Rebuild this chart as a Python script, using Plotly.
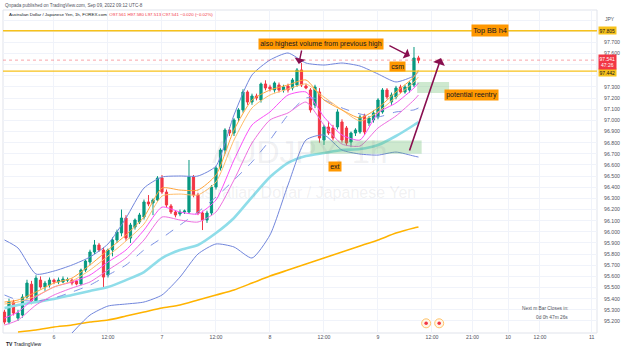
import plotly.graph_objects as go

# ---------------- data ----------------
bar_hours = list(range(-11, 82))  # hours relative to Sep 6 00:00
open_ = [95.280,95.190,95.370,95.226,95.253,95.415,95.530,95.380,95.567,95.505,
         95.523,95.567,95.550,95.550,95.567,95.567,95.558,95.532,95.657,95.729,
         95.819,95.882,95.837,95.612,95.837,95.927,95.990,96.124,95.944,96.043,
         96.088,96.133,96.268,96.259,96.286,96.483,96.357,96.232,96.178,96.160,
         96.178,96.178,96.492,96.331,96.169,96.106,96.169,96.402,96.573,96.734,
         96.914,96.887,97.022,97.094,97.255,97.165,97.219,97.183,97.327,97.300,
         97.273,97.318,97.273,97.309,97.291,97.318,97.453,97.309,97.273,97.138,
         97.255,96.824,96.941,96.932,96.941,96.986,96.932,96.806,96.887,96.896,
         97.040,96.977,97.004,97.031,97.076,97.273,97.165,97.210,97.300,97.255,
         97.273,97.318,97.561]
high = [95.300,95.400,95.390,95.300,95.440,95.570,95.560,95.610,95.600,95.560,
        95.590,95.580,95.590,95.600,95.590,95.580,95.570,95.670,95.750,95.840,
        95.927,95.900,95.860,95.850,95.950,96.020,96.200,96.150,96.080,96.120,
        96.170,96.290,96.330,96.300,96.500,96.510,96.380,96.250,96.190,96.200,
        96.200,96.645,96.510,96.350,96.190,96.190,96.420,96.590,96.750,96.930,
        96.940,97.020,97.110,97.280,97.270,97.240,97.240,97.340,97.360,97.320,
        97.350,97.340,97.320,97.330,97.380,97.470,97.515,97.330,97.290,97.320,
        97.290,96.960,96.990,96.960,97.100,97.010,96.950,96.900,96.930,97.050,
        97.060,97.040,97.090,97.200,97.290,97.290,97.250,97.310,97.320,97.320,
        97.350,97.659,97.580]
low = [95.170,95.170,95.250,95.200,95.230,95.400,95.350,95.360,95.490,95.470,
       95.500,95.530,95.530,95.540,95.550,95.520,95.520,95.520,95.640,95.700,
       95.800,95.820,95.496,95.590,95.780,95.900,95.960,95.920,95.900,96.020,
       96.070,96.110,96.230,96.150,96.270,96.340,96.220,96.160,96.130,96.140,
       96.160,96.160,96.310,96.150,96.016,96.080,96.150,96.380,96.550,96.700,
       96.860,96.860,96.990,97.070,97.140,97.140,97.180,97.160,97.270,97.260,
       97.250,97.250,97.250,97.250,97.270,97.300,97.300,97.280,97.070,97.110,
       96.800,96.780,96.870,96.820,96.920,96.800,96.770,96.760,96.860,96.880,
       96.870,96.950,96.980,97.010,97.060,97.190,97.140,97.190,97.240,97.240,
       97.250,97.300,97.513]
close = [95.190,95.370,95.271,95.271,95.415,95.540,95.380,95.585,95.505,95.540,
         95.567,95.550,95.567,95.576,95.570,95.540,95.532,95.657,95.738,95.819,
         95.882,95.837,95.594,95.837,95.927,95.998,96.124,95.944,96.061,96.106,
         96.151,96.268,96.250,96.286,96.483,96.357,96.241,96.178,96.151,96.178,
         96.187,96.492,96.331,96.169,96.106,96.169,96.402,96.573,96.734,96.914,
         96.887,97.004,97.094,97.255,97.165,97.219,97.201,97.327,97.291,97.282,
         97.336,97.273,97.300,97.273,97.363,97.453,97.318,97.291,97.094,97.300,
         96.842,96.941,96.887,96.842,97.076,96.824,96.797,96.887,96.914,97.031,
         96.896,97.022,97.067,97.183,97.273,97.210,97.228,97.291,97.255,97.300,
         97.336,97.560,97.541]

ind_hours = [-11,-8,-4,0,4,8,12,16,20,24,28,32,36,40,44,48,52,56,60,64,68,72,76,80,81]
bb_upper = [95.927,95.855,95.621,95.648,95.702,95.774,95.891,96.124,96.393,96.492,
            96.501,96.501,96.591,97.049,97.408,97.542,97.605,97.515,97.497,97.515,
            97.488,97.417,97.345,97.399,97.435]
bb_basis = [95.433,95.388,95.379,95.406,95.460,95.522,95.612,95.702,95.837,95.945,
            96.061,96.178,96.312,96.465,96.627,96.824,97.049,97.201,97.183,97.112,
            97.058,97.031,97.076,97.094,97.112]
bb_lower_hours = [4,8,12,16,20,24,28,32,36,40,44,48,52,56,60,64,68,72,76,80,81]
bb_lower = [95.092,95.253,95.334,95.352,95.370,95.433,95.594,95.801,95.891,95.864,
            95.765,95.972,96.420,96.824,96.869,96.734,96.698,96.689,96.716,96.680,96.671]
ema_cyan = [95.316,95.343,95.370,95.397,95.433,95.469,95.505,95.567,95.639,95.765,
            95.837,95.882,95.989,96.124,96.312,96.492,96.618,96.680,96.707,96.734,
            96.743,96.779,96.860,96.959,96.986]
ema_pink_fast = [95.226,95.280,95.415,95.505,95.550,95.612,95.729,95.837,96.016,96.222,
                 96.178,96.160,96.286,96.645,96.959,97.076,97.228,97.255,97.031,96.869,
                 96.824,97.067,97.157,97.291,97.336]
ema_pink_slow = [95.163,95.208,95.343,95.433,95.496,95.550,95.657,95.765,95.927,96.133,
                 96.106,96.088,96.178,96.465,96.797,97.004,97.067,97.165,96.959,96.788,
                 96.770,96.932,97.040,97.183,97.228]
ema_orange_fast = [95.370,95.388,95.460,95.540,95.585,95.702,95.837,95.972,96.133,96.393,
                   96.375,96.375,96.510,96.914,97.183,97.273,97.318,97.363,97.183,97.094,
                   97.022,97.112,97.255,97.390,97.453]
ema_orange_slow = [95.352,95.370,95.424,95.505,95.558,95.657,95.783,95.918,96.070,96.321,
                   96.339,96.331,96.447,96.824,97.112,97.228,97.282,97.327,97.210,97.094,
                   96.995,97.076,97.210,97.345,97.390]
ema200_hours = [-8,-4,0,4,8,12,16,20,24,28,32,36,40,44,48,52,56,60,64,68,72,76,80,81]
ema200 = [95.101,95.119,95.146,95.164,95.191,95.208,95.244,95.280,95.316,95.343,
          95.388,95.433,95.478,95.540,95.603,95.657,95.711,95.765,95.819,95.873,
          95.927,95.989,96.034,96.043]

level_top_bb_h4 = 97.805
level_csm = 97.442
last_price = 97.541
countdown = "47:26"
zone_ext = dict(h0=57.0, h1=81.7, p0=96.70, p1=96.82)
zone_reentry = dict(h0=80.7, h1=87.8, p0=97.246, p1=97.345)
event_hours = [82.7, 85.6]

x_tick_vals = [0, 12, 24, 36, 48, 60, 72, 84, 93, 100.9, 108, 119.5]
x_tick_text = ["6", "12:00", "7", "12:00", "8", "12:00", "9", "12:00", "21:00", "10", "12:00", "11"]
y_ticks = [round(95.2 + 0.1 * i, 1) for i in range(28)]
y_hidden_labels = [97.4, 97.5, 97.8, 97.9]  # covered by price tags / currency label

# ---------------- layout geometry ----------------
W, H = 625, 354
L, R, T, B = 3, 28, 10, 21
PW, PH = W - L - R, H - T - B
X_RANGE = [-11.33, 120.67]
Y_RANGE = [95.092, 97.991]

def px_x(px):
    return (px - L) / PW

def px_y(py):
    return (H - B - py) / PH

GREEN = "#089981"
RED = "#f23645"
FONT = "Liberation Sans"

fig = go.Figure()

fig.add_trace(go.Candlestick(
    x=bar_hours, open=open_, high=high, low=low, close=close,
    increasing=dict(line=dict(color=GREEN, width=1), fillcolor=GREEN),
    decreasing=dict(line=dict(color=RED, width=1), fillcolor=RED),
    whiskerwidth=0, showlegend=False, hoverinfo="skip"))

def line(xs, ys, color, width, dash=None):
    fig.add_trace(go.Scatter(x=xs, y=ys, mode="lines", showlegend=False, hoverinfo="skip",
                             line=dict(color=color, width=width, dash=dash, shape="spline", smoothing=0.6)))

line(ema200_hours, ema200, "#ffb300", 1.6)
line(ind_hours, ema_cyan, "#8fdde9", 2.6)
line(ind_hours, bb_upper, "#7186dc", 1)
line(bb_lower_hours, bb_lower, "#7186dc", 1)
line(ind_hours, bb_basis, "#7d92e4", 1, "dash")
line(ind_hours, ema_pink_slow, "#ee6fe0", 1)
line(ind_hours, ema_pink_fast, "#fb4ff8", 1)
line(ind_hours, ema_orange_slow, "#ffbe6a", 1)
line(ind_hours, ema_orange_fast, "#ffa53a", 1)

# event markers near bottom of pane
fig.add_trace(go.Scatter(x=event_hours, y=[0.03] * len(event_hours), yaxis="y2", mode="markers",
                         showlegend=False, hoverinfo="skip",
                         marker=dict(size=9, color="#fff5e6", line=dict(color="#ffc46b", width=1))))
fig.add_trace(go.Scatter(x=event_hours, y=[0.03] * len(event_hours), yaxis="y2", mode="markers",
                         showlegend=False, hoverinfo="skip",
                         marker=dict(size=3.5, color=RED)))

shapes = []
shapes.append(dict(type="rect", xref="paper", yref="paper", x0=0, x1=1, y0=0, y1=1,
                   line=dict(color="#e0e3eb", width=1), layer="below"))
for z in (zone_ext, zone_reentry):
    shapes.append(dict(type="rect", xref="x", yref="y", x0=z["h0"], x1=z["h1"], y0=z["p0"], y1=z["p1"],
                       fillcolor="rgba(102,187,106,0.32)", line=dict(width=0), layer="above"))
for lv in (level_top_bb_h4, level_csm):
    shapes.append(dict(type="line", xref="paper", yref="y", x0=0, x1=1, y0=lv, y1=lv,
                       line=dict(color="#f7c21b", width=1.4)))
shapes.append(dict(type="line", xref="paper", yref="y", x0=0, x1=1, y0=last_price, y1=last_price,
                   line=dict(color="rgba(242,54,69,0.45)", width=1, dash="dot")))

ann = []
def label(text, h, p, size=7):
    ann.append(dict(x=h, y=p, xref="x", yref="y", text=text, showarrow=False,
                    font=dict(family=FONT, size=size, color="#131722"),
                    bgcolor="#ff9800", borderpad=1.2))

label("Top BB h4", 96.9, level_top_bb_h4, 7.3)
label("also highest volume from previous high", 59.3, 97.682, 7)
label("csm", 76.4, 97.480, 7)
label("potential reentry", 92.7, 97.228, 7)
label("ext", 62.4, 96.582, 7)

ARROW = "#880e4f"
def arrow(h_tail, p_tail, h_head, p_head, width=1.4):
    ann.append(dict(x=h_head, y=p_head, ax=h_tail, ay=p_tail, xref="x", yref="y",
                    axref="x", ayref="y", text="", showarrow=True, arrowhead=1,
                    arrowsize=1.3, arrowwidth=width, arrowcolor=ARROW))

arrow(55.1, 97.641, 54.4, 97.506)
arrow(74.2, 97.677, 79.1, 97.578)
arrow(78.9, 96.717, 86.0, 97.560, 1.6)

# watermark
ann.append(dict(x=0.5, y=px_y(152), xref="paper", yref="paper", text="AUDJPY, 1h", showarrow=False,
                font=dict(family=FONT, size=32, color="rgba(120,123,134,0.11)")))
ann.append(dict(x=0.5, y=px_y(192), xref="paper", yref="paper", text="Australian Dollar / Japanese Yen",
                showarrow=False, font=dict(family=FONT, size=16, color="rgba(120,123,134,0.11)")))

# header texts
ann.append(dict(x=px_x(3), y=px_y(5), xref="paper", yref="paper", xanchor="left", yanchor="middle",
                text="Qnpada published on TradingView.com, Sep 09, 2022 09:12 UTC-8", showarrow=False,
                font=dict(family=FONT, size=4.6, color="#50535e")))
ann.append(dict(x=px_x(7), y=px_y(15), xref="paper", yref="paper", xanchor="left", yanchor="middle",
                text=("Australian Dollar / Japanese Yen, 1h, FOREX.com  "
                      "<span style='color:#f23645'>O97.561 H97.580 L97.513 C97.541 −0.020 (−0.02%)</span>"),
                showarrow=False, font=dict(family=FONT, size=4.4, color="#131722")))

# price scale tags
def tag(text, p, bg, fg, yshift=0):
    ann.append(dict(x=1, y=p, xref="paper", yref="y", xanchor="left", xshift=1, yshift=yshift, text=text,
                    showarrow=False, bgcolor=bg, borderpad=0.6,
                    font=dict(family=FONT, size=5.0, color=fg)))

tag("97.805", level_top_bb_h4, "#f7c21b", "#131722")
tag("97.442", level_csm, "#f7c21b", "#131722", yshift=-1.5)
tag("97.541<br>" + countdown, last_price, RED, "white", yshift=-1.5)
ann.append(dict(x=1, y=px_y(14), xref="paper", yref="paper", xanchor="left", xshift=6, text="JPY",
                showarrow=False, font=dict(family=FONT, size=5, color="#50535e")))

# countdown text
ann.append(dict(x=px_x(570), y=px_y(313), xref="paper", yref="paper", text="Next m Bar Closes in:",
                showarrow=False, font=dict(family=FONT, size=4.8, color="#50535e")))
ann.append(dict(x=px_x(570), y=px_y(322), xref="paper", yref="paper", text="0d 0h 47m 26s",
                showarrow=False, font=dict(family=FONT, size=4.8, color="#50535e")))
# logo
ann.append(dict(x=px_x(4), y=px_y(349), xref="paper", yref="paper", xanchor="left", text="<b>TV</b> TradingView",
                showarrow=False, font=dict(family=FONT, size=5, color="#131722")))

y_text = ["" if v in y_hidden_labels else f"{v:.3f}" for v in y_ticks]

fig.update_layout(
    width=W, height=H, margin=dict(l=L, r=R, t=T, b=B),
    paper_bgcolor="white", plot_bgcolor="white",
    shapes=shapes, annotations=ann, showlegend=False,
    xaxis=dict(range=X_RANGE, rangeslider=dict(visible=False), tickvals=x_tick_vals, ticktext=x_tick_text,
               showgrid=True, gridcolor="#f0f3fa", gridwidth=1, zeroline=False,
               tickfont=dict(family=FONT, size=5.2, color="#50535e"), ticks="", showline=False),
    yaxis=dict(range=Y_RANGE, side="right", tickvals=y_ticks, ticktext=y_text,
               showgrid=True, gridcolor="#f0f3fa", gridwidth=1, zeroline=False,
               tickfont=dict(family=FONT, size=5.2, color="#50535e"),
               ticks="outside", ticklen=5, tickcolor="rgba(0,0,0,0)", showline=False),
    yaxis2=dict(range=[0, 1], overlaying="y", visible=False, fixedrange=True),
)

fig.write_html("out.html")
